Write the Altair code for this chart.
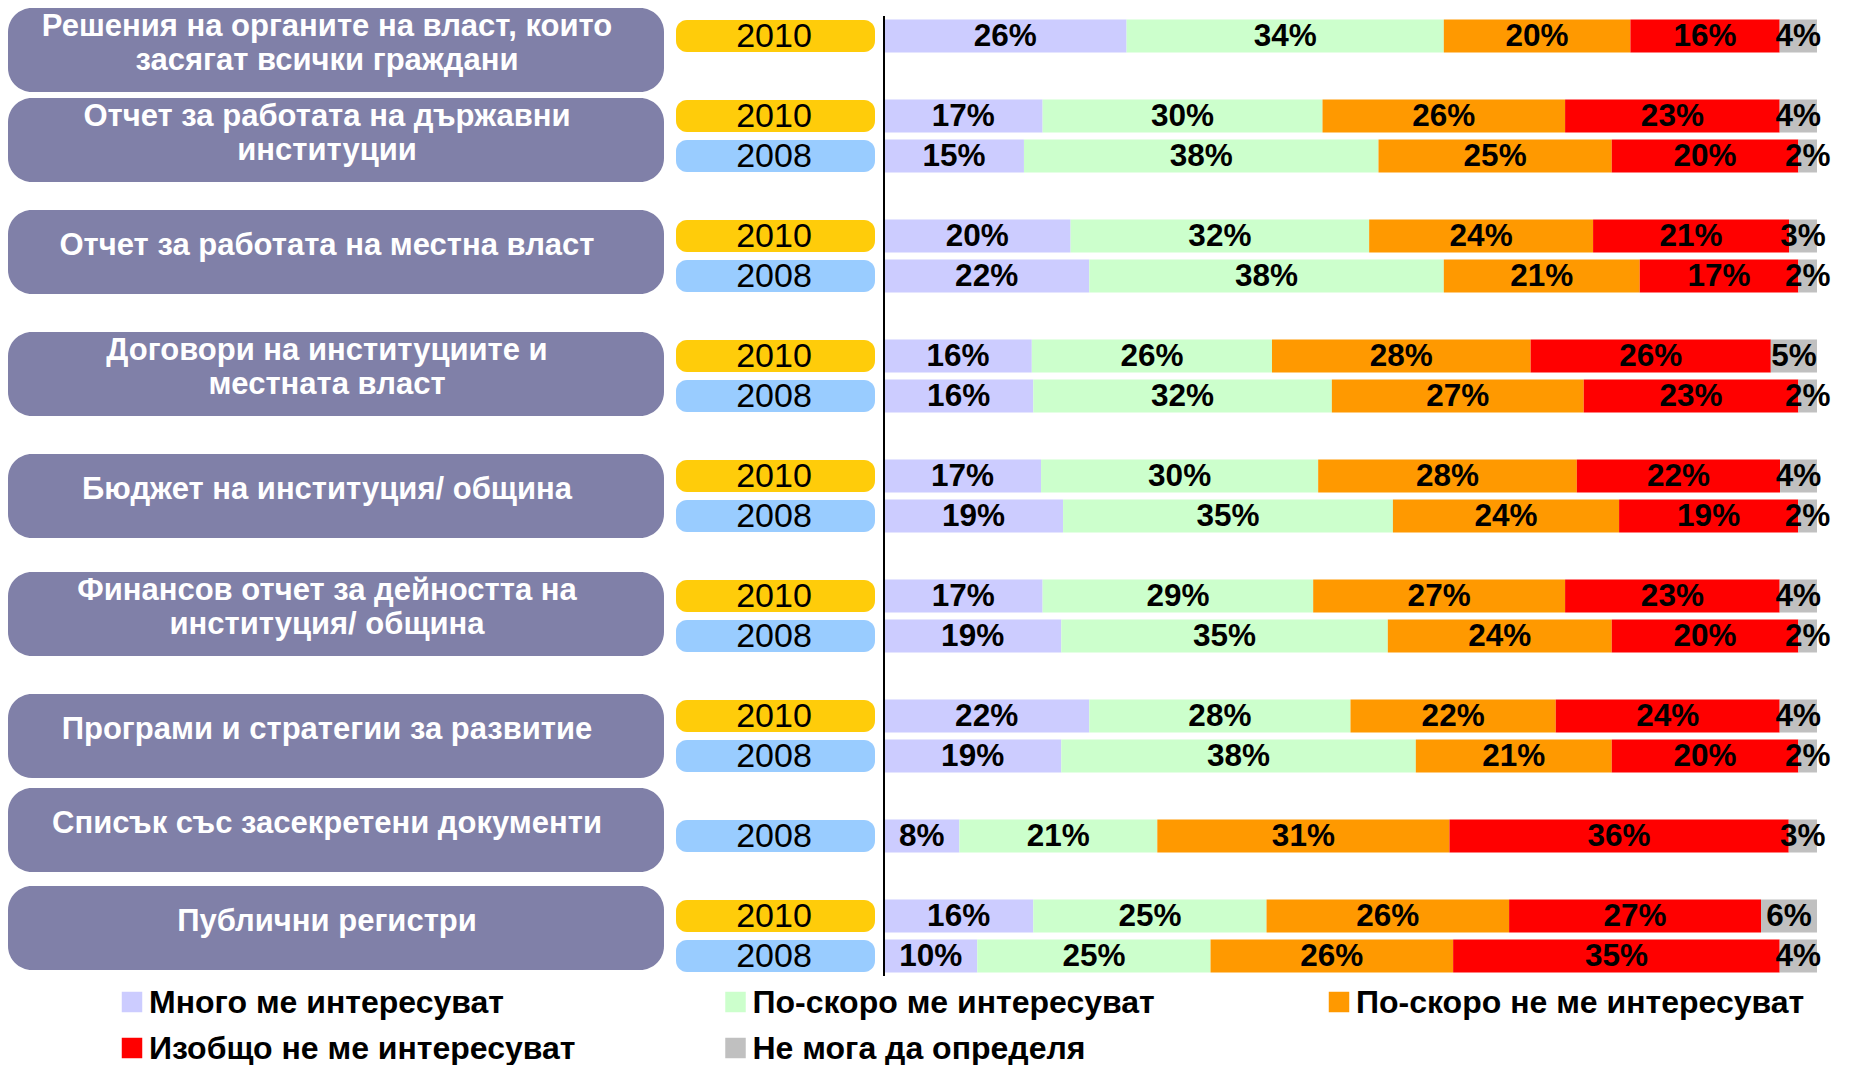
import altair as alt
import pandas as pd

# ---------------- data ----------------
topics = [
    "Решения на органите на власт, които\nзасягат всички граждани",
    "Отчет за работата на държавни\nинституции",
    "Отчет за работата на местна власт",
    "Договори на институциите и\nместната власт",
    "Бюджет на институция/ община",
    "Финансов отчет за дейността на\nинституция/ община",
    "Програми и стратегии за развитие",
    "Списък със засекретени документи",
    "Публични регистри",
]
row_topic = [0, 1, 1, 2, 2, 3, 3, 4, 4, 5, 5, 6, 6, 7, 8, 8]
row_year = ["2010", "2010", "2008", "2010", "2008", "2010", "2008", "2010",
            "2008", "2010", "2008", "2010", "2008", "2008", "2010", "2008"]

answers = [
    "Много ме интересуват",
    "По-скоро ме интересуват",
    "По-скоро не ме интересуват",
    "Изобщо не ме интересуват",
    "Не мога да определя",
]
very = [26, 17, 15, 20, 22, 16, 16, 17, 19, 17, 19, 22, 19, 8, 16, 10]
rather_yes = [34, 30, 38, 32, 38, 26, 32, 30, 35, 29, 35, 28, 38, 21, 25, 25]
rather_no = [20, 26, 25, 24, 21, 28, 27, 28, 24, 27, 24, 22, 21, 31, 26, 26]
not_at_all = [16, 23, 20, 21, 17, 26, 23, 22, 19, 23, 20, 24, 20, 36, 27, 35]
cant_say = [4, 4, 2, 3, 2, 5, 2, 4, 2, 4, 2, 4, 2, 3, 6, 4]
series = [very, rather_yes, rather_no, not_at_all, cant_say]

# ---------------- layout (category slots) ----------------
topic_base_slot = [0, 2, 5, 8, 11, 14, 17, 19, 22]
year_offset = {"2010": 0, "2008": 1}
pill_slot = [0.35, 2.6, 5.4, 8.45, 11.5, 14.45, 17.5, 19.85, 22.3]
legend_col = [0, 1, 2, 0, 1]
legend_row = [0, 0, 0, 1, 1]

bar_colors = ["#CCCCFF", "#CCFFCC", "#FF9900", "#FF0000", "#C0C0C0"]
year_colors = ["#FFCC0A", "#99CCFF"]
pill_color = "#8080A8"
FONT = "Liberation Sans"

row_slot = [topic_base_slot[t] + year_offset[y] for t, y in zip(row_topic, row_year)]

bar_records = []
for r in range(len(row_topic)):
    for k, ans in enumerate(answers):
        bar_records.append({
            "row": r, "slot": row_slot[r], "answer": ans, "order": k,
            "value": series[k][r], "label": f"{series[k][r]}%",
        })
bars_df = pd.DataFrame(bar_records)
years_df = pd.DataFrame({"slot": row_slot, "year": row_year})
topics_df = pd.DataFrame({"topic": topics, "pos": pill_slot})
legend_df = pd.DataFrame({"answer": answers, "col": legend_col, "row": legend_row})

H = 960
W1, W2, W3 = 656, 203, 933
LINE_H = 34
yscale = alt.Scale(domain=[-0.5, 23.5], reverse=True, nice=False, zero=False, padding=0)
color_scale = alt.Scale(domain=answers, range=bar_colors)

# ---------------- panel 1: topic pills ----------------
pills = alt.Chart(topics_df).mark_bar(
    size=84, cornerRadius=24, color=pill_color, orient="horizontal"
).encode(
    x=alt.value(0), x2=alt.value("width"),
    y=alt.Y("pos:Q", scale=yscale, axis=None),
)
pill_text = alt.Chart(topics_df).transform_calculate(
    nl="length(split(datum.topic, '\\n'))",
    tpos=f"datum.pos - (datum.nl - 1) * {LINE_H / 40 / 2}",
).mark_text(
    font=FONT, fontSize=31, fontWeight="bold", color="white",
    lineBreak="\n", lineHeight=LINE_H, align="center", baseline="middle", dy=-6,
).encode(
    x=alt.value(319),
    y=alt.Y("tpos:Q", scale=yscale, axis=None),
    text="topic:N",
)
panel1 = alt.layer(pills, pill_text).properties(width=W1, height=H)

# ---------------- panel 2: year pills ----------------
ypills = alt.Chart(years_df).mark_bar(
    size=32, cornerRadius=11, orient="horizontal"
).encode(
    x=alt.value(4), x2=alt.value("width"),
    y=alt.Y("slot:Q", scale=yscale, axis=None),
    fill=alt.Fill("year:N", scale=alt.Scale(domain=["2010", "2008"], range=year_colors), legend=None),
)
ytext = alt.Chart(years_df).mark_text(
    font=FONT, fontSize=34, color="black", align="center", baseline="middle", dy=1,
).encode(
    x=alt.value(102),
    y=alt.Y("slot:Q", scale=yscale, axis=None),
    text="year:N",
)
panel2 = alt.layer(ypills, ytext).properties(width=W2, height=H)

# ---------------- panel 3: stacked bars ----------------
base = alt.Chart(bars_df).transform_joinaggregate(
    total="sum(value)", groupby=["row"]
).transform_window(
    cum="sum(value)", sort=[alt.SortField("order")], groupby=["row"], frame=[None, 0]
).transform_calculate(
    start="(datum.cum - datum.value) / datum.total",
    end="datum.cum / datum.total",
    mid="(datum.cum - datum.value / 2) / datum.total",
)
xscale = alt.Scale(domain=[0, 1], nice=False, zero=False)
bars = base.mark_bar(size=33, orient="horizontal").encode(
    x=alt.X("start:Q", scale=xscale, axis=None),
    x2="end:Q",
    y=alt.Y("slot:Q", scale=yscale, axis=None),
    color=alt.Color("answer:N", scale=color_scale, legend=None),
)
labels = base.mark_text(
    font=FONT, fontSize=31.5, fontWeight="bold", color="black",
    align="center", baseline="middle", dy=1,
).encode(
    x=alt.X("mid:Q", scale=xscale, axis=None),
    y=alt.Y("slot:Q", scale=yscale, axis=None),
    text="label:N",
)
vline = alt.Chart(years_df).mark_rule(color="black", strokeWidth=2).encode(
    x=alt.value(0), y=alt.value(0), y2=alt.value("height")
)
panel3 = alt.layer(bars, labels, vline).properties(width=W3, height=H)

top = alt.hconcat(panel1, panel2, panel3, spacing=8)

# ---------------- legend ----------------
lx = alt.Scale(type="point", domain=[0, 1, 2], range=[124, 1331], padding=0)
ly = alt.Scale(type="point", domain=[0, 1], range=[25, 71], padding=0)
lsym = alt.Chart(legend_df).mark_square(size=420, opacity=1).encode(
    x=alt.X("col:O", scale=lx, axis=None),
    y=alt.Y("row:O", scale=ly, axis=None),
    color=alt.Color("answer:N", scale=color_scale, legend=None),
)
ltext = alt.Chart(legend_df).mark_text(
    font=FONT, fontSize=32, fontWeight="bold", color="black",
    align="left", baseline="middle", dx=17, dy=1,
).encode(
    x=alt.X("col:O", scale=lx, axis=None),
    y=alt.Y("row:O", scale=ly, axis=None),
    text="answer:N",
)
legend = alt.layer(lsym, ltext).properties(width=1800, height=80)

chart = alt.vconcat(top, legend, spacing=0).properties(
    padding={"left": 0, "top": 0, "right": 0, "bottom": 0},
    background="white",
).configure_view(stroke=None)

chart.save("out.html", embed_options={"renderer": "svg", "actions": False})
